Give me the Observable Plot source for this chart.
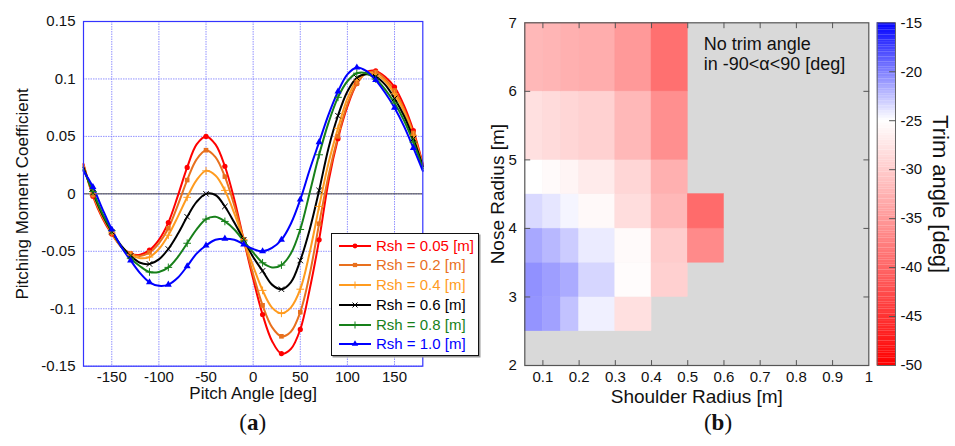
<!DOCTYPE html>
<html><head><meta charset="utf-8">
<script src="https://cdn.jsdelivr.net/npm/d3@7"></script>
<script src="https://cdn.jsdelivr.net/npm/@observablehq/plot@0.6"></script>
<style>
body{margin:0;background:#fff;}
#wrap{position:relative;width:955px;height:446px;overflow:hidden;font-family:"Liberation Sans",Arial,sans-serif;color:#111;}
#wrap svg.plotpart{position:absolute;top:0;}
.sub{position:absolute;font-family:"Liberation Serif","DejaVu Serif",serif;font-size:23px;transform:translate(-50%,-50%);white-space:nowrap;color:#111;}
#legend{position:absolute;left:331px;top:233px;width:146px;height:121px;border:1.3px solid #111;background:#fff;box-shadow:1.5px 1.5px 0 #999;}
.lrow{position:absolute;left:0;height:20px;line-height:20px;font-size:15px;white-space:nowrap;}
.lrow svg{position:absolute;left:7px;top:4px;}
.lrow span{position:absolute;left:44px;top:0;}
</style></head>
<body><div id="wrap"></div>
<script>
// ---------- Panel (a): pitching moment coefficient ----------
const pitchAngles = [-180,-170,-160,-150,-140,-130,-120,-110,-100,-90,-80,-70,-60,-50,-40,-30,-20,-10,0,10,20,30,40,50,60,70,80,90,100,110,120,130,140,150,160,170,180];
const rsh005 = [0.026,-0.002,-0.021,-0.035,-0.046,-0.052,-0.053,-0.049,-0.040,-0.025,-0.002,0.023,0.043,0.050,0.043,0.024,-0.005,-0.040,-0.074,-0.105,-0.128,-0.139,-0.135,-0.118,-0.083,-0.040,0.011,0.048,0.076,0.096,0.106,0.107,0.102,0.093,0.077,0.055,0.026];
const rsh02  = [0.025,-0.001,-0.020,-0.034,-0.046,-0.052,-0.054,-0.051,-0.043,-0.030,-0.010,0.012,0.030,0.038,0.032,0.015,-0.010,-0.040,-0.070,-0.097,-0.116,-0.124,-0.120,-0.103,-0.070,-0.026,0.016,0.050,0.078,0.096,0.105,0.106,0.100,0.090,0.074,0.053,0.025];
const rsh04  = [0.024,0.000,-0.019,-0.034,-0.046,-0.053,-0.056,-0.055,-0.048,-0.036,-0.020,-0.003,0.012,0.020,0.016,0.003,-0.017,-0.040,-0.063,-0.084,-0.099,-0.104,-0.099,-0.083,-0.051,-0.011,0.027,0.057,0.083,0.099,0.105,0.104,0.098,0.087,0.072,0.051,0.024];
const rsh06  = [0.023,0.001,-0.018,-0.033,-0.045,-0.054,-0.060,-0.061,-0.057,-0.048,-0.035,-0.020,-0.007,0.000,-0.001,-0.011,-0.025,-0.040,-0.055,-0.067,-0.079,-0.083,-0.077,-0.058,-0.031,0.003,0.040,0.068,0.089,0.101,0.104,0.102,0.095,0.083,0.068,0.048,0.024];
const rsh08  = [0.021,0.002,-0.017,-0.032,-0.046,-0.056,-0.063,-0.068,-0.068,-0.064,-0.055,-0.043,-0.031,-0.022,-0.020,-0.024,-0.031,-0.041,-0.051,-0.060,-0.064,-0.062,-0.052,-0.031,0.001,0.034,0.062,0.084,0.098,0.105,0.105,0.100,0.091,0.079,0.064,0.045,0.022];
const rsh10  = [0.020,0.006,-0.013,-0.031,-0.046,-0.058,-0.069,-0.077,-0.080,-0.079,-0.073,-0.063,-0.052,-0.045,-0.040,-0.039,-0.040,-0.044,-0.048,-0.050,-0.047,-0.040,-0.026,-0.005,0.021,0.045,0.069,0.089,0.104,0.110,0.107,0.099,0.088,0.075,0.059,0.040,0.020];
const markerAngles = [-170,-150,-130,-110,-90,-70,-50,-30,-10,10,30,50,70,90,110,130,150,170];
const seriesNames = ["Rsh = 0.05 [m]","Rsh = 0.2 [m]","Rsh = 0.4 [m]","Rsh = 0.6 [m]","Rsh = 0.8 [m]","Rsh = 1.0 [m]"];
const seriesValues = [rsh005, rsh02, rsh04, rsh06, rsh08, rsh10];
const seriesColors = ["#ff0000","#e8701e","#ff9b1f","#000000","#17801a","#0000ff"];
const seriesSymbols = ["circle","square","plus","times","plus","triangle"];
const xTicksA = [-150,-100,-50,0,50,100,150];
const xTickLabelsA = ["-150","-100","-50","0","50","100","150"];
const yTicksA = [-0.15,-0.1,-0.05,0,0.05,0.1,0.15];
const yTickLabelsA = ["-0.15","-0.1","-0.05","0","0.05","0.1","0.15"];

// ---------- Panel (b): trim angle map ----------
const shoulderEdges = [0.05,0.1,0.15,0.2,0.3,0.4,0.5,0.6];
const noseEdges = [2.5,3,3.5,4,4.5,5,6,7];
const trimNose25 = [-20.8,-21.3,-22.6,-24.4,-28.0,null,null];
const trimNose30 = [-20.7,-21.2,-21.7,-23.4,-25.3,-29.6,null];
const trimNose35 = [-21.6,-22.2,-23.0,-24.2,-25.5,-30.0,-36.5];
const trimNose40 = [-23.5,-24.0,-24.6,-25.6,-28.3,-32.0,-39.5];
const trimNose45 = [-25.0,-25.5,-26.0,-27.0,-29.0,-32.7,null];
const trimNose50 = [-28.0,-28.5,-29.0,-29.5,-32.0,-36.0,null];
const trimNose60 = [-32.0,-32.3,-32.7,-33.0,-35.0,-39.0,null];
const xTicksB = [0.1,0.2,0.3,0.4,0.5,0.6,0.7,0.8,0.9,1];
const xTickLabelsB = ["0.1","0.2","0.3","0.4","0.5","0.6","0.7","0.8","0.9","1"];
const yTicksB = [2,3,4,5,6,7];
const colorbarTicks = [-50,-45,-40,-35,-30,-25,-20,-15];
const colorDomain = [-50,-25,-15];
const colorRange = ["#ff0000","#ffffff","#0000ff"];

const FONT = '"Liberation Sans", Arial, sans-serif';
const wrap = document.getElementById("wrap");
const tickShape = {draw(context, l) { context.moveTo(0, 0); context.lineTo(0, -l); }};
const inwardTicks = (data, side, len = 5) => {
  const rot = {bottom: 0, top: 180, left: 90, right: -90}[side];
  const pos = (side === "bottom" || side === "top") ? {x: d => d} : {y: d => d};
  return Plot.vector(data, {...pos, frameAnchor: side, length: len, rotate: rot, anchor: "start", shape: tickShape, stroke: "#555", strokeWidth: 1});
};

// ---------- build panel (a) ----------
const lineRows = seriesValues.flatMap((vals, s) => vals.map((v, i) => ({angle: pitchAngles[i], cm: v, s})));
const markRows = lineRows.filter(d => markerAngles.includes(d.angle));
const seriesMarks = [];
seriesValues.forEach((_, s) => {
  seriesMarks.push(Plot.line(lineRows.filter(d => d.s === s), {x: "angle", y: "cm", stroke: seriesColors[s], strokeWidth: 2, curve: "catmull-rom"}));
});
seriesValues.forEach((_, s) => {
  const stroked = seriesSymbols[s] === "plus" || seriesSymbols[s] === "times";
  seriesMarks.push(Plot.dot(markRows.filter(d => d.s === s), {
    x: "angle", y: "cm", symbol: seriesSymbols[s], r: 2.6,
    fill: stroked ? "none" : seriesColors[s], stroke: stroked ? seriesColors[s] : "none", strokeWidth: 1
  }));
});

const plotA = Plot.plot({
  width: 480, height: 446,
  marginLeft: 83, marginRight: 57.7, marginTop: 21, marginBottom: 80.3,
  x: {domain: [-180, 180]},
  y: {domain: [-0.15, 0.15]},
  style: {fontFamily: FONT, fontSize: "15px", color: "#111", background: "transparent", overflow: "visible"},
  marks: [
    Plot.gridX(xTicksA, {stroke: "#6d6dff", strokeOpacity: 0.75, strokeDasharray: "1.5,1"}),
    Plot.gridY(yTicksA, {stroke: "#6d6dff", strokeOpacity: 0.75, strokeDasharray: "1.5,1"}),
    Plot.ruleY([0], {stroke: "#444", strokeWidth: 1}),
    ...seriesMarks,
    Plot.frame({stroke: "#3434ff", strokeWidth: 1.2}),
    Plot.axisX(xTicksA, {tickSize: 0, tickPadding: 5, fontSize: 15, label: null, tickFormat: d => xTickLabelsA[xTicksA.indexOf(d)]}),
    Plot.axisY(yTicksA, {tickSize: 0, tickPadding: 8, fontSize: 15, label: null, tickFormat: d => yTickLabelsA[yTicksA.indexOf(d)]}),
    Plot.text(["Pitch Angle [deg]"], {text: d => d, frameAnchor: "bottom", textAnchor: "middle", dy: 33, fontSize: 17}),
    Plot.text(["Pitching Moment Coefficient"], {text: d => d, frameAnchor: "left", textAnchor: "middle", rotate: -90, dx: -61, fontSize: 17})
  ]
});
plotA.classList.add("plotpart");
plotA.style.left = "0px";
wrap.appendChild(plotA);

// ---------- build panel (b) ----------
const trimRows = [trimNose25, trimNose30, trimNose35, trimNose40, trimNose45, trimNose50, trimNose60];
const cells = trimRows.flatMap((row, r) => row.map((v, c) => v == null ? null :
  ({x1: shoulderEdges[c], x2: shoulderEdges[c + 1], y1: noseEdges[r], y2: noseEdges[r + 1], trim: v}))).filter(Boolean);
const colorScale = {type: "linear", domain: colorDomain, range: colorRange, interpolate: "rgb"};

const plotB = Plot.plot({
  width: 400, height: 446,
  marginLeft: 44.3, marginRight: 11.7, marginTop: 22.3, marginBottom: 81,
  x: {domain: [0.05, 1]},
  y: {domain: [2, 7]},
  color: colorScale,
  style: {fontFamily: FONT, fontSize: "15px", color: "#111", background: "transparent", overflow: "visible"},
  marks: [
    Plot.frame({fill: "#d9d9d9"}),
    Plot.rect(cells, {x1: "x1", x2: "x2", y1: "y1", y2: "y2", fill: "trim", stroke: "trim", strokeWidth: 0.5}),
    Plot.frame({stroke: "#555", strokeWidth: 1.2}),
    inwardTicks(xTicksB.slice(0, -1), "bottom"),
    inwardTicks(xTicksB.slice(0, -1), "top"),
    inwardTicks(yTicksB.slice(1, -1), "left"),
    inwardTicks(yTicksB.slice(1, -1), "right"),
    Plot.axisX(xTicksB, {anchor: "bottom", tickSize: 0, tickPadding: 6, fontSize: 15, label: null, tickFormat: d => xTickLabelsB[xTicksB.indexOf(d)]}),
    Plot.axisY(yTicksB, {anchor: "left", tickSize: 0, tickPadding: 8, fontSize: 15, label: null, tickFormat: d => String(d)}),
    Plot.text(["Shoulder Radius [m]"], {text: d => d, frameAnchor: "bottom", textAnchor: "middle", dy: 37, fontSize: 19}),
    Plot.text(["Nose Radius [m]"], {text: d => d, frameAnchor: "left", textAnchor: "middle", rotate: -90, dx: -27, fontSize: 19}),
    Plot.text(["No trim angle\nin -90<α<90 [deg]"], {text: d => d, frameAnchor: "top-left", textAnchor: "start", lineAnchor: "top", dx: 179, dy: 13, fontSize: 18, lineHeight: 1.12})
  ]
});
plotB.classList.add("plotpart");
plotB.style.left = "480px";
wrap.appendChild(plotB);

// ---------- colorbar ----------
const cbSteps = d3.range(-50, -15, 0.25);
const plotC = Plot.plot({
  width: 85, height: 446,
  marginLeft: 6.7, marginRight: 60, marginTop: 22.3, marginBottom: 81,
  y: {domain: [-50, -15]},
  color: colorScale,
  style: {fontFamily: FONT, fontSize: "15px", color: "#111", background: "transparent", overflow: "visible"},
  marks: [
    Plot.rect(cbSteps, {y1: d => d, y2: d => d + 0.26, fill: d => d + 0.125}),
    Plot.frame({stroke: "#666", strokeWidth: 1}),
    inwardTicks(colorbarTicks.slice(1, -1), "right", 6),
    Plot.axisY(colorbarTicks, {anchor: "right", tickSize: 0, tickPadding: 5, fontSize: 15, label: null, tickFormat: d => String(d)}),
    Plot.text(["Trim angle [deg]"], {text: d => d, frameAnchor: "right", textAnchor: "middle", rotate: 90, dx: 45, fontSize: 22})
  ]
});
plotC.classList.add("plotpart");
plotC.style.left = "870px";
wrap.appendChild(plotC);

// ---------- legend for (a) ----------
const d3Sym = {circle: d3.symbolCircle, square: d3.symbolSquare, plus: d3.symbolPlus, times: d3.symbolTimes, triangle: d3.symbolTriangle};
const legend = d3.select(wrap).append("div").attr("id", "legend");
seriesNames.forEach((name, i) => {
  const row = legend.append("div").attr("class", "lrow").style("top", (1.7 + i * 19.7) + "px").style("color", seriesColors[i]);
  const svg = row.append("svg").attr("width", 34).attr("height", 12);
  svg.append("line").attr("x1", 0).attr("x2", 32).attr("y1", 6).attr("y2", 6).attr("stroke", seriesColors[i]).attr("stroke-width", 2);
  const stroked = seriesSymbols[i] === "plus" || seriesSymbols[i] === "times";
  svg.append("path").attr("d", d3.symbol(d3Sym[seriesSymbols[i]], 18)()).attr("transform", "translate(16,6)")
    .attr("fill", stroked ? "none" : seriesColors[i]).attr("stroke", stroked ? seriesColors[i] : "none");
  row.append("span").text(name);
});

// ---------- panel letters ----------
d3.select(wrap).append("div").attr("class", "sub").style("left", "252.7px").style("top", "423px").html("(<b>a</b>)");
d3.select(wrap).append("div").attr("class", "sub").style("left", "718px").style("top", "423px").html("(<b>b</b>)");
</script></body></html>
